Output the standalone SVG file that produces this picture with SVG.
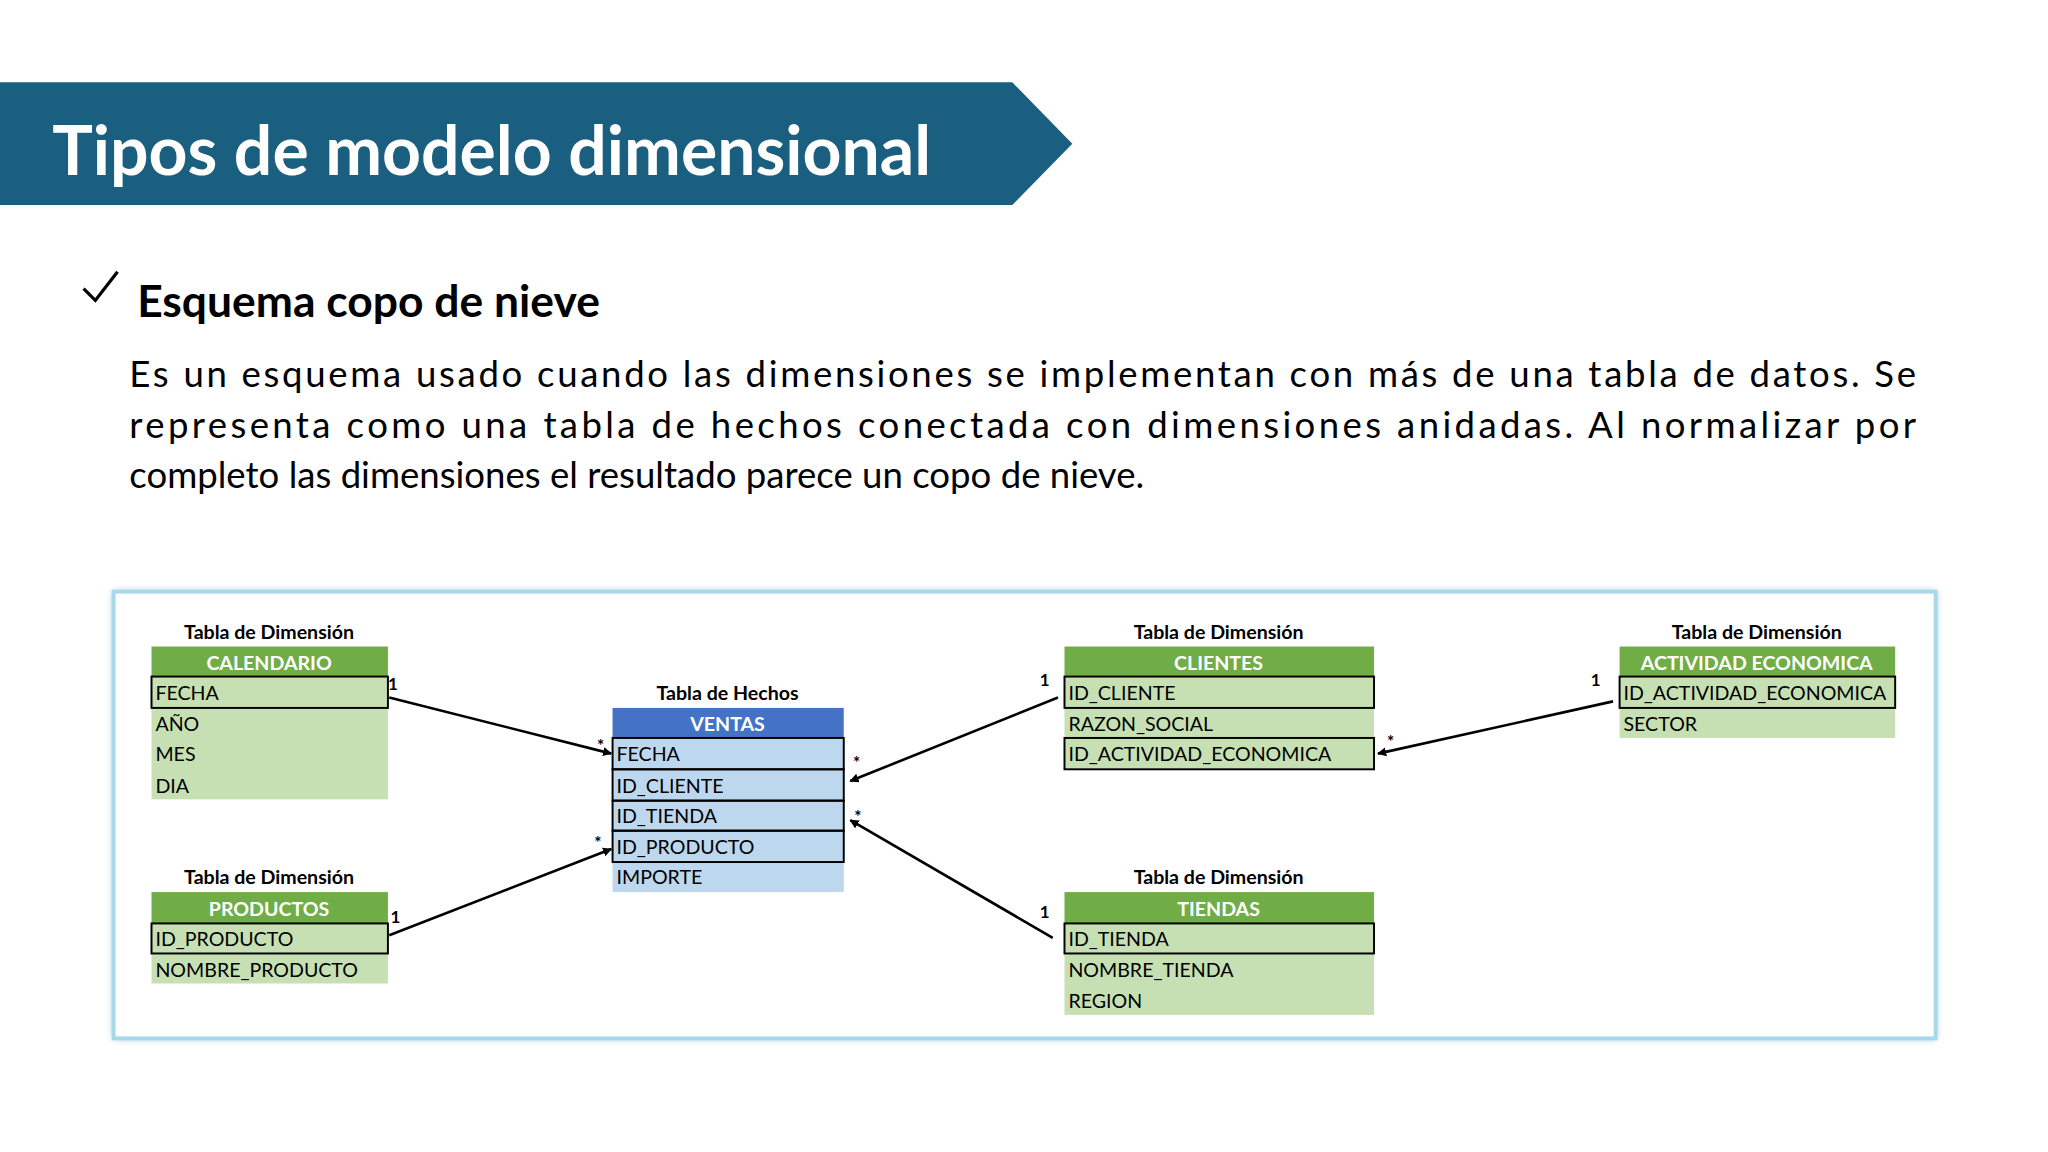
<svg xmlns="http://www.w3.org/2000/svg" width="2048" height="1152" viewBox="0 0 2048 1152">
<defs>
<marker id="ar" viewBox="0 0 10 10" refX="9" refY="5" markerWidth="7" markerHeight="7" orient="auto" markerUnits="userSpaceOnUse"><path d="M0,0L10,5L0,10z" fill="#000"/></marker>
<filter id="sh" x="-5%" y="-10%" width="110%" height="120%"><feGaussianBlur stdDeviation="3"/></filter>
</defs>
<style>
text{font-family:Lato,"Open Sans",sans-serif}
.cap{font-size:15px;font-weight:bold;text-anchor:middle;fill:#000}
.hd{font-size:15px;font-weight:bold;text-anchor:middle;fill:#fff}
.fd{font-size:15px;fill:#000}
.gh{fill:#70ad47}.gl{fill:#c6e0b4}.bh{fill:#4472c4}.bl{fill:#bdd7ee}
.bx{fill:none;stroke:#000;stroke-width:1.5}
.cn{stroke:#000;stroke-width:2;fill:none;marker-end:url(#ar)}
.lb{font-size:13px;font-weight:bold;fill:#000}
</style>
<rect width="2048" height="1152" fill="#fff"/>
<g transform="scale(1.30612)">
<g id="title">
<polygon points="0,63 775,63 821,110 775,157 0,157" fill="#1a5f80"/>
<text x="40" y="134" font-size="52" font-weight="bold" fill="#fff" font-family="'Open Sans',Lato,sans-serif">Tipos de modelo dimensional</text>
</g>
<g id="text">
<path d="M64,221 L73,230 L90,208" stroke="#000" stroke-width="2.5" fill="none"/>
<text x="105" y="243" font-size="34" font-weight="bold">Esquema copo de nieve</text>
<text x="99" y="296" font-size="28" textLength="1368" lengthAdjust="spacing">Es un esquema usado cuando las dimensiones se implementan con más de una tabla de datos. Se</text>
<text x="99" y="335" font-size="28" textLength="1368" lengthAdjust="spacing">representa como una tabla de hechos conectada con dimensiones anidadas. Al normalizar por</text>
<text x="99" y="374" font-size="28">completo las dimensiones el resultado parece un copo de nieve.</text>
</g>
<g id="frame">
<rect x="87" y="453" width="1395" height="342" fill="#7fb6cc" filter="url(#sh)"/>
<rect x="87" y="453" width="1395" height="342" fill="#fff" stroke="#a8d8ea" stroke-width="3"/>
</g>
<g id="calendario">
<text class="cap" x="206" y="489">Tabla de Dimensión</text>
<rect class="gh" x="116" y="495" width="181" height="23"/>
<text class="hd" x="206" y="513">CALENDARIO</text>
<rect class="gl" x="116" y="518" width="181" height="94"/>
<rect class="bx" x="116" y="518" width="181" height="24"/>
<text class="fd" x="119" y="536">FECHA</text><text class="fd" x="119" y="560">AÑO</text><text class="fd" x="119" y="583">MES</text><text class="fd" x="119" y="607">DIA</text>
</g>
<g id="productos">
<text class="cap" x="206" y="677">Tabla de Dimensión</text>
<rect class="gh" x="116" y="683" width="181" height="24"/>
<text class="hd" x="206" y="701">PRODUCTOS</text>
<rect class="gl" x="116" y="707" width="181" height="46"/>
<rect class="bx" x="116" y="707" width="181" height="23"/>
<text class="fd" x="119" y="724">ID_PRODUCTO</text><text class="fd" x="119" y="748">NOMBRE_PRODUCTO</text>
</g>
<g id="ventas">
<text class="cap" x="557" y="536">Tabla de Hechos</text>
<rect class="bh" x="469" y="542" width="177" height="23"/>
<text class="hd" x="557" y="560">VENTAS</text>
<rect class="bl" x="469" y="565" width="177" height="118"/>
<rect class="bx" x="469" y="565" width="177" height="24"/><rect class="bx" x="469" y="589" width="177" height="24"/><rect class="bx" x="469" y="613" width="177" height="23"/><rect class="bx" x="469" y="636" width="177" height="24"/>
<text class="fd" x="472" y="583">FECHA</text><text class="fd" x="472" y="607">ID_CLIENTE</text><text class="fd" x="472" y="630">ID_TIENDA</text><text class="fd" x="472" y="654">ID_PRODUCTO</text><text class="fd" x="472" y="677">IMPORTE</text>
</g>
<g id="clientes">
<text class="cap" x="933" y="489">Tabla de Dimensión</text>
<rect class="gh" x="815" y="495" width="237" height="23"/>
<text class="hd" x="933" y="513">CLIENTES</text>
<rect class="gl" x="815" y="518" width="237" height="71"/>
<rect class="bx" x="815" y="518" width="237" height="24"/><rect class="bx" x="815" y="565" width="237" height="24"/>
<text class="fd" x="818" y="536">ID_CLIENTE</text><text class="fd" x="818" y="560">RAZON_SOCIAL</text><text class="fd" x="818" y="583">ID_ACTIVIDAD_ECONOMICA</text>
</g>
<g id="actividad">
<text class="cap" x="1345" y="489">Tabla de Dimensión</text>
<rect class="gh" x="1240" y="495" width="211" height="23"/>
<text class="hd" x="1345" y="513">ACTIVIDAD ECONOMICA</text>
<rect class="gl" x="1240" y="518" width="211" height="47"/>
<rect class="bx" x="1240" y="518" width="211" height="24"/>
<text class="fd" x="1243" y="536">ID_ACTIVIDAD_ECONOMICA</text><text class="fd" x="1243" y="560">SECTOR</text>
</g>
<g id="tiendas">
<text class="cap" x="933" y="677">Tabla de Dimensión</text>
<rect class="gh" x="815" y="683" width="237" height="24"/>
<text class="hd" x="933" y="701">TIENDAS</text>
<rect class="gl" x="815" y="707" width="237" height="70"/>
<rect class="bx" x="815" y="707" width="237" height="23"/>
<text class="fd" x="818" y="724">ID_TIENDA</text><text class="fd" x="818" y="748">NOMBRE_TIENDA</text><text class="fd" x="818" y="772">REGION</text>
</g>
<g id="connectors">
<line class="cn" x1="298" y1="534" x2="468" y2="577"/>
<line class="cn" x1="298" y1="716" x2="468" y2="650"/>
<line class="cn" x1="810" y1="534" x2="651" y2="598"/>
<line class="cn" x1="806" y1="718" x2="651" y2="628"/>
<line class="cn" x1="1235" y1="537" x2="1055" y2="577"/>
<text class="lb" x="297" y="528">1</text><text class="lb" x="457" y="576">*</text>
<text class="lb" x="299" y="707">1</text><text class="lb" x="455" y="650">*</text>
<text class="lb" x="796" y="525">1</text><text class="lb" x="653" y="589">*</text>
<text class="lb" x="796" y="703">1</text><text class="lb" x="654" y="630">*</text>
<text class="lb" x="1218" y="525">1</text><text class="lb" x="1062" y="573">*</text>
</g>
</g>
</svg>
